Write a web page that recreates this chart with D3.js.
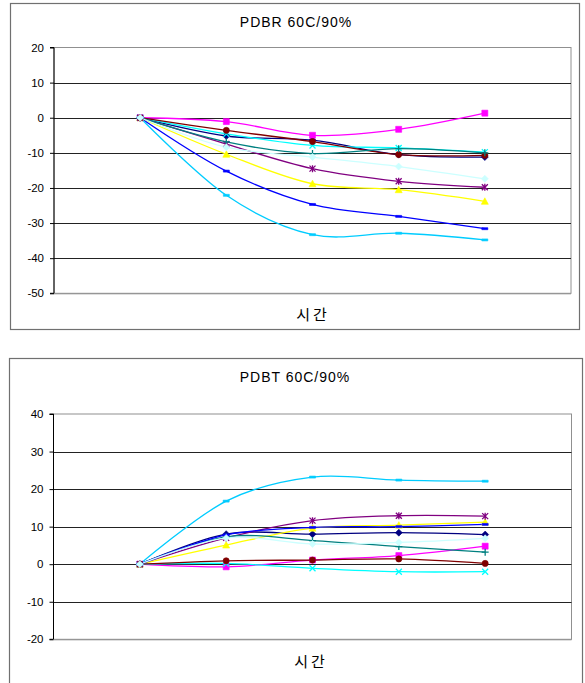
<!DOCTYPE html>
<html><head><meta charset="utf-8">
<script src="https://cdn.jsdelivr.net/npm/d3@7"></script>
<style>
html,body{margin:0;padding:0;background:#fff;}
svg{display:block;}
text{font-family:"Liberation Sans","Noto Sans CJK KR",sans-serif;fill:#000;}
</style></head>
<body>
<svg id="c" width="585" height="683"></svg>
<script>
// time points (category axis, no labels shown)
const timePoints = ["0","1","2","3","4"];
const seriesColors = ["#000080","#FF00FF","#FFFF00","#00FFFF","#800080","#800000","#008080","#0000FF","#00CCFF","#CCFFFF"];
const seriesMarkers = ["diamond","square","triangle","x","star","circle","plus","dash","dash","diamond"];

// PDBR 60C/90%
const pdbrTitle = "PDBR 60C/90%";
const pdbrTicks = [20,10,0,-10,-20,-30,-40,-50];
const pdbrS1 = [0,-5.2,-6.4,-10.5,-11.2];
const pdbrS2 = [0,-1.1,-5.0,-3.3,1.3];
const pdbrS3 = [0,-10.4,-18.8,-20.5,-23.8];
const pdbrS4 = [0,-4.6,-7.9,-8.6,-9.8];
const pdbrS5 = [0,-7.5,-14.5,-18.1,-19.8];
const pdbrS6 = [0,-3.6,-6.8,-10.5,-10.7];
const pdbrS7 = [0,-6.9,-10.2,-8.8,-10.0];
const pdbrS8 = [0,-15.2,-24.7,-28.1,-31.6];
const pdbrS9 = [0,-22.1,-33.3,-32.9,-34.8];
const pdbrS10 = [0,-8.4,-11.2,-13.9,-17.4];

// PDBT 60C/90%
const pdbtTitle = "PDBT 60C/90%";
const pdbtTicks = [40,30,20,10,0,-10,-20];
const pdbtS1 = [0,8.0,8.0,8.4,7.9];
const pdbtS2 = [0,-0.7,1.1,2.3,4.8];
const pdbtS3 = [0,5.1,9.6,10.4,11.2];
const pdbtS4 = [0,0.2,-1.1,-2.0,-2.0];
const pdbtS5 = [0,7.0,11.6,12.9,12.8];
const pdbtS6 = [0,0.9,1.1,1.4,0.2];
const pdbtS7 = [0,7.3,6.3,4.7,3.2];
const pdbtS8 = [0,7.8,9.8,10.0,10.6];
const pdbtS9 = [0,16.8,23.2,22.4,22.1];
const pdbtS10 = [0,7.0,5.4,5.8,6.9];

const xLabel = "시간";

const svg = d3.select("#c");

function markerPath(type){
  switch(type){
    case "diamond": return "M0,-3.5L3.5,0L0,3.5L-3.5,0Z";
    case "square": return "M-3,-3H3V3H-3Z";
    case "triangle": return "M0,-3.5L3.5,3L-3.5,3Z";
    case "circle": return d3.symbol().type(d3.symbolCircle).size(30)();
    case "x": return "M-3,-3L3,3M-3,3L3,-3";
    case "star": return "M-3,-3L3,3M-3,3L3,-3M0,-3.5V3.5";
    case "plus": return "M-3.5,0H3.5M0,-3.5V3.5";
    case "dash": return "M-3,-1H3V1H-3Z";
  }
}
const strokeOnly = {x:1,star:1,plus:1};

function drawChart(cfg){
  const g = svg.append("g");
  g.append("rect").attr("x",cfg.box[0]+0.5).attr("y",cfg.box[1]+0.5)
    .attr("width",cfg.box[2]-cfg.box[0]).attr("height",cfg.box[3]-cfg.box[1])
    .attr("fill","#fff").attr("stroke","#707070").attr("stroke-width",1.2);
  const x = d3.scalePoint().domain(timePoints).range([cfg.plot[0],cfg.plot[2]]).padding(1);
  const y = d3.scaleLinear().domain([d3.min(cfg.ticks),d3.max(cfg.ticks)]).range([cfg.plot[3],cfg.plot[1]]);
  // plot border
  g.append("rect").attr("x",cfg.plot[0]).attr("y",cfg.plot[1])
    .attr("width",cfg.plot[2]-cfg.plot[0]).attr("height",cfg.plot[3]-cfg.plot[1])
    .attr("fill","none").attr("stroke","#909090").attr("stroke-width",1);
  // gridlines
  g.append("g").selectAll("line").data(cfg.ticks.filter(t=>t!==d3.min(cfg.ticks)&&t!==d3.max(cfg.ticks)))
    .join("line").attr("x1",cfg.plot[0]).attr("x2",cfg.plot[2])
    .attr("y1",d=>Math.round(y(d))+0.5).attr("y2",d=>Math.round(y(d))+0.5)
    .attr("stroke","#222").attr("stroke-width",1);
  // y axis
  const ax = g.append("g").attr("transform",`translate(${cfg.plot[0]},0)`)
    .call(d3.axisLeft(y).tickValues(cfg.ticks).tickSize(4).tickPadding(6).tickFormat(d3.format("d")));
  ax.select(".domain").attr("stroke","#000").attr("d",`M-4,${y(d3.max(cfg.ticks))}H0V${y(d3.min(cfg.ticks))}H-4`);
  ax.selectAll(".tick line").attr("stroke","#000");
  ax.selectAll(".tick text").attr("font-size",11.5).attr("font-family",'"Liberation Sans",sans-serif').attr("fill","#000").text(d=>d<0?"-"+(-d):d);
  // bottom axis line
  g.append("line").attr("x1",cfg.plot[0]).attr("x2",cfg.plot[2])
    .attr("y1",cfg.plot[3]+0.5).attr("y2",cfg.plot[3]+0.5).attr("stroke","#909090");
  // series
  const line = d3.line().x((d,i)=>x(timePoints[i])).y(d=>y(d)).curve(d3.curveCatmullRom.alpha(0));
  cfg.series.forEach((s,k)=>{
    const col = seriesColors[k];
    g.append("path").attr("d",line(s)).attr("fill","none").attr("stroke",col).attr("stroke-width",1.3);
  });
  cfg.series.forEach((s,k)=>{
    const col = seriesColors[k], m = seriesMarkers[k];
    g.append("g").selectAll("path").data(s).join("path")
      .attr("transform",(d,i)=>`translate(${x(timePoints[i])},${y(d)})`)
      .attr("d",markerPath(m))
      .attr("fill",strokeOnly[m]?"none":col)
      .attr("stroke",col).attr("stroke-width",strokeOnly[m]?1.3:0.6);
  });
  g.append("text").attr("x",cfg.titlePos[0]).attr("y",cfg.titlePos[1]).attr("text-anchor","middle")
    .attr("font-size",14).attr("letter-spacing",1).text(cfg.title);
  g.append("text").attr("x",cfg.labelPos[0]).attr("y",cfg.labelPos[1]).attr("text-anchor","middle")
    .attr("font-size",15).attr("letter-spacing",3).attr("font-family",'"Noto Sans CJK KR",sans-serif').text(xLabel);
}

drawChart({
  box:[10,3,579,329],
  plot:[54,47.5,571,293.3],
  ticks:pdbrTicks,
  series:[pdbrS1,pdbrS2,pdbrS3,pdbrS4,pdbrS5,pdbrS6,pdbrS7,pdbrS8,pdbrS9,pdbrS10],
  title:pdbrTitle, titlePos:[296,27],
  labelPos:[313,320]
});
drawChart({
  box:[9,358,582,684],
  plot:[53.5,414,571.5,639.3],
  ticks:pdbtTicks,
  series:[pdbtS1,pdbtS2,pdbtS3,pdbtS4,pdbtS5,pdbtS6,pdbtS7,pdbtS8,pdbtS9,pdbtS10],
  title:pdbtTitle, titlePos:[295,382],
  labelPos:[311,667]
});
</script>
</body></html>
